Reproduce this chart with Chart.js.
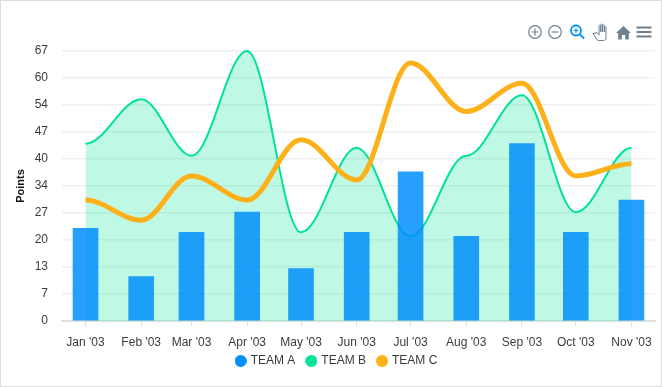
<!DOCTYPE html>
<html>
<head>
<meta charset="utf-8">
<style>
  html, body { margin: 0; padding: 0; background: #fff; }
  #box { position: relative; width: 660px; height: 385px; border: 1px solid #ddd; }
  #toolbar { position: absolute; left: 525px; top: 21px; }
</style>
</head>
<body>
<div id="box">
  <canvas id="grafico" width="662" height="387" style="position:absolute;left:-1px;top:-1px"></canvas>
  <svg id="toolbar" width="130" height="20" viewBox="0 0 130 20" fill="none">
    <g stroke="#6e8192" stroke-width="1.2">
      <circle cx="9" cy="10" r="6.3"/><path d="M5.500 10h7M9 6.500v7"/>
      <circle cx="29" cy="10" r="6.300"/><path d="M25.500 10h7"/>
    </g>
    <g stroke="#008ffb" stroke-width="1.8">
      <circle cx="50" cy="8.500" r="5"/><path d="M53.800 12.300l4.400 4.400"/>
      <path d="M47.700 8.500h4.600M50 6.200v4.600" stroke-width="1.2"/>
    </g>
    <path d="M67 11.500l3.500 5.500c.5 1 1.200 1.500 2.500 1.500h4.500c1.500 0 2.500-1 2.500-2.500V5.500c0-1.200-1.600-1.200-1.600 0V10V3.800c0-1.200-1.800-1.200-1.800 0V10V3c0-1.200-1.800-1.200-1.800 0V10V4c0-1.200-1.700-1.200-1.700 0v9l-2.200-2.500c-.9-.8-1.900 0-1.400 1z" stroke="#6e8192" stroke-width="1"/>
    <path d="M90 11l7.500-7 7.500 7h-2.200v6.500h-3.600v-4.500h-3.400v4.500h-3.600V11z" fill="#6e8192"/>
    <path d="M110.500 5.500h15M110.500 10h15M110.500 14.500h15" stroke="#6e8192" stroke-width="2"/>
  </svg>
</div>
<script src="https://cdn.jsdelivr.net/npm/chart.js@4"></script>
<script>
// giorni dal 1 gennaio 2003
const giorni = [0, 31, 59, 90, 120, 151, 181, 212, 243, 273, 304];
const mesi = ["Jan '03", "Feb '03", "Mar '03", "Apr '03", "May '03", "Jun '03", "Jul '03", "Aug '03", "Sep '03", "Oct '03", "Nov '03"];
const teamA = [23, 11, 22, 27, 13, 22, 37, 21, 44, 22, 30];
const teamB = [44, 55, 41, 67, 22, 43, 21, 41, 56, 27, 43];
const teamC = [30, 25, 36, 30, 45, 35, 64, 52, 59, 36, 39];
const tickY = [0, 6.7, 13.4, 20.1, 26.8, 33.5, 40.2, 46.9, 53.6, 60.3, 67];

const punti = valori => valori.map((v, i) => ({ x: giorni[i], y: v }));

// Curva con tangente orizzontale su ogni punto
const curvaOrizzontale = {
    id: 'curvaOrizzontale',
    afterDatasetsUpdate(chart) {
        chart.data.datasets.forEach((d, i) => {
            if (d.type !== 'line') return;
            const meta = chart.getDatasetMeta(i);
            meta.dataset.updateControlPoints(chart.chartArea, 'x');
            const pts = meta.data;
            pts.forEach((p, k) => {
                const dopo = pts[k + 1] ? (pts[k + 1].x - p.x) * 0.35 : 0;
                const prima = pts[k - 1] ? (p.x - pts[k - 1].x) * 0.35 : 0;
                p.cp1x = p.x - prima;
                p.cp1y = p.y;
                p.cp2x = p.x + dopo;
                p.cp2y = p.y;
            });
        });
    }
};

// L'asse x e' basso: allarga l'area delle etichette cosi' non vengono tagliate
const spazioEtichette = {
    id: 'spazioEtichette',
    afterLayout(chart) {
        chart.scales.x.bottom += 10;
    }
};

// Pallino della legenda
function pallino(colore) {
    const c = document.createElement('canvas');
    c.width = 12;
    c.height = 12;
    const g = c.getContext('2d');
    g.fillStyle = colore;
    g.arc(6, 6, 6, 0, Math.PI * 2);
    g.fill();
    return c;
}

Chart.defaults.font.family = '"Liberation Sans", Arial, sans-serif';
Chart.defaults.font.size = 12;
Chart.defaults.color = '#373d3f';

const ctx = document.getElementById('grafico').getContext('2d');
new Chart(ctx, {
    plugins: [curvaOrizzontale, spazioEtichette],
    data: {
        datasets: [
            {
                type: 'bar',
                label: 'TEAM A',
                data: punti(teamA),
                backgroundColor: 'rgba(0, 143, 251, 0.85)',
                borderWidth: 0,
                barThickness: 25,
                order: 2
            },
            {
                type: 'line',
                label: 'TEAM B',
                data: punti(teamB),
                borderColor: '#00e396',
                backgroundColor: 'rgba(0, 227, 150, 0.25)',
                borderWidth: 2,
                fill: 'origin',
                tension: 0.4,
                pointRadius: 0,
                clip: 4,
                order: 3
            },
            {
                type: 'line',
                label: 'TEAM C',
                data: punti(teamC),
                borderColor: '#feb019',
                backgroundColor: '#feb019',
                borderWidth: 5,
                fill: false,
                tension: 0.4,
                pointRadius: 0,
                order: 1
            }
        ]
    },
    options: {
        responsive: false,
        animation: false,
        layout: { padding: { left: 19, right: 7, top: 51, bottom: 10 } },
        plugins: {
            tooltip: { enabled: false },
            legend: {
                position: 'bottom',
                onClick: null,
                labels: {
                    usePointStyle: true,
                    boxHeight: 12,
                    pointStyleWidth: 8,
                    padding: 12,
                    font: { size: 12 },
                    // colori pieni e ordine A, B, C
                    generateLabels: chart => chart.data.datasets.map((d, i) => ({
                        text: d.label,
                        fontColor: '#373d3f',
                        pointStyle: pallino(i === 0 ? '#008ffb' : d.borderColor),
                        lineWidth: 0,
                        datasetIndex: i
                    }))
                }
            }
        },
        scales: {
            x: {
                type: 'linear',
                offset: false,
                min: -13.1,
                max: 317.1,
                afterBuildTicks: axis => { axis.ticks = giorni.map(g => ({ value: g })); },
                afterFit: axis => { axis.height = 22; },
                ticks: {
                    autoSkip: false,
                    maxRotation: 0,
                    padding: 8,
                    callback: v => mesi[giorni.indexOf(v)]
                },
                grid: { display: true, offset: false, drawOnChartArea: false, drawTicks: true, tickLength: 6, color: '#e0e0e0' },
                border: { display: true, color: '#e0e0e0', width: 2 }
            },
            y: {
                min: 0,
                max: 67,
                afterBuildTicks: axis => { axis.ticks = tickY.map(v => ({ value: v })); },
                afterFit: axis => { axis.width = 43; },
                title: { display: true, text: 'Points', font: { size: 11, weight: 'bold' }, color: '#111', padding: { top: -5, bottom: 0 } },
                ticks: { padding: 14, callback: v => Math.round(v).toString() },
                grid: { color: '#efefef', lineWidth: 1.5, drawTicks: false },
                border: { display: false }
            }
        }
    }
});
</script>
</body>
</html>
